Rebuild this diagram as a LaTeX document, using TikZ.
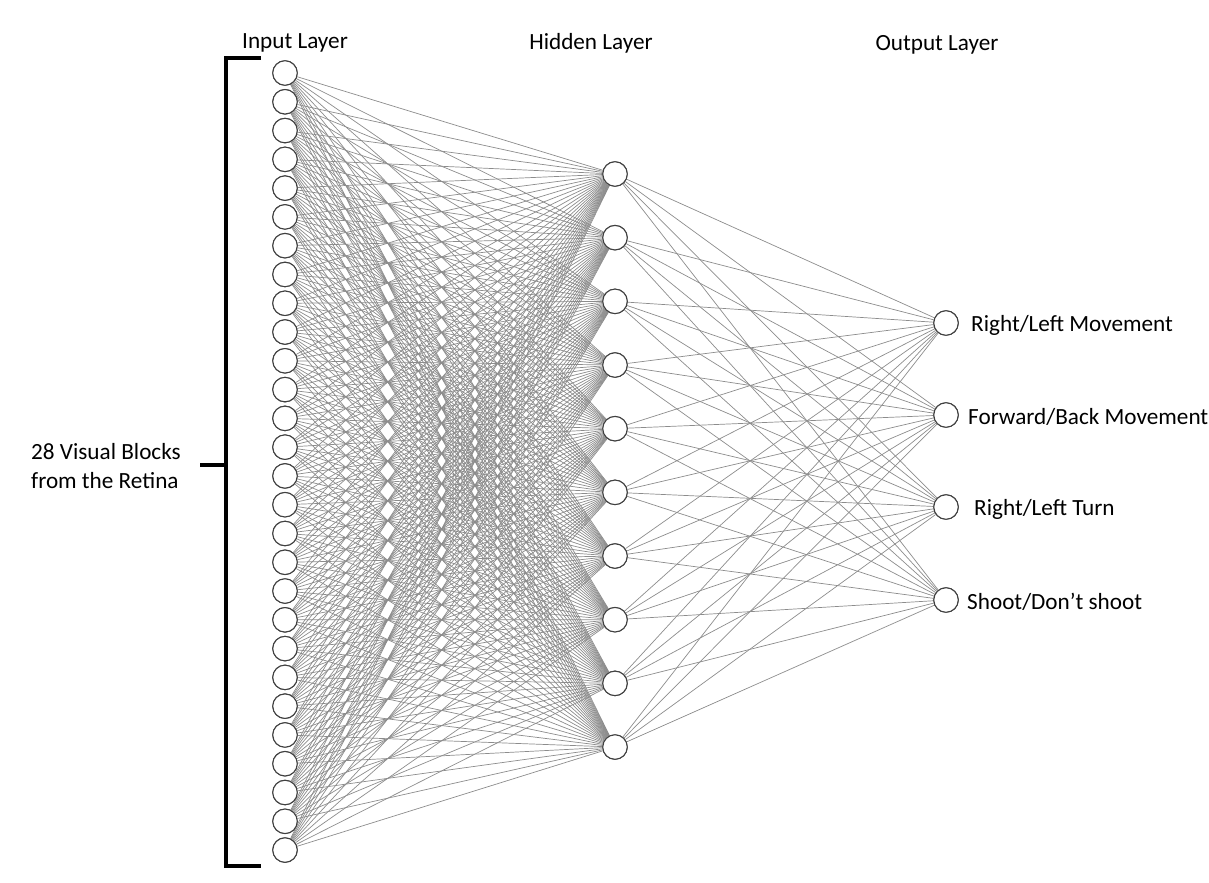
\documentclass[tikz,border=0pt]{standalone}
\usepackage{fontspec}
\setmainfont{Carlito}
\begin{document}
\begin{tikzpicture}[x=0.02cm,y=-0.02cm,
  neuron/.style={circle,draw=black!75,line width=0.6pt,fill=white,inner sep=0pt,minimum size=24.5*0.02cm},
  link/.style={draw=black!45,line width=0.4pt},
  lbl/.style={font=\fontsize{13.2}{16}\selectfont},
  brace/.style={line width=2.2pt}]
\useasboundingbox (0,0) rectangle (1209,882);
% input layer
\foreach \i in {1,...,28}
  \node[neuron] at (285,{73+(\i-1)*28.78}) (in\i) {};
% hidden layer
\foreach \j in {1,...,10}
  \node[neuron] at (615,{174+(\j-1)*63.67}) (hid\j) {};
% output layer
\node[neuron] at (946,323) (out1) {};
\node[neuron] at (946,415) (out2) {};
\node[neuron] at (946,507) (out3) {};
\node[neuron] at (946,600) (out4) {};
% connections
\foreach \i in {1,...,28}
  \foreach \j in {1,...,10}
    \draw[link] (in\i) -- (hid\j);
\foreach \j in {1,...,10}
  \foreach \k in {1,...,4}
    \draw[link] (hid\j) -- (out\k);
% redraw neurons on top
\foreach \i in {1,...,28}
  \node[neuron] at (in\i) {};
\foreach \j in {1,...,10}
  \node[neuron] at (hid\j) {};
\foreach \k in {1,...,4}
  \node[neuron] at (out\k) {};
% titles
\node[lbl] at (295,43) (tin) {Input Layer};
\node[lbl] at (591,43) (thid) {Hidden Layer};
\node[lbl] at (937,45) (tout) {Output Layer};
% output labels
\node[lbl,anchor=west] at (965,325) (lout1) {Right/Left Movement};
\node[lbl,anchor=west] at (962,417) (lout2) {Forward/Back Movement};
\node[lbl,anchor=west] at (968,509) (lout3) {Right/Left Turn};
\node[lbl,anchor=west] at (961,602) (lout4) {Shoot/Don't shoot};
% bracket
\coordinate (btop) at (261,58);
\coordinate (bbot) at (261,866);
\coordinate (bmid) at (200,465);
\draw[brace] (btop) -- (226,58) -- (226,866) -- (bbot);
\draw[brace] (bmid) -- (226,465);
\node[lbl,align=left,anchor=west] at (25,466) (retina) {28 Visual Blocks\\from the Retina};
\end{tikzpicture}
\end{document}
